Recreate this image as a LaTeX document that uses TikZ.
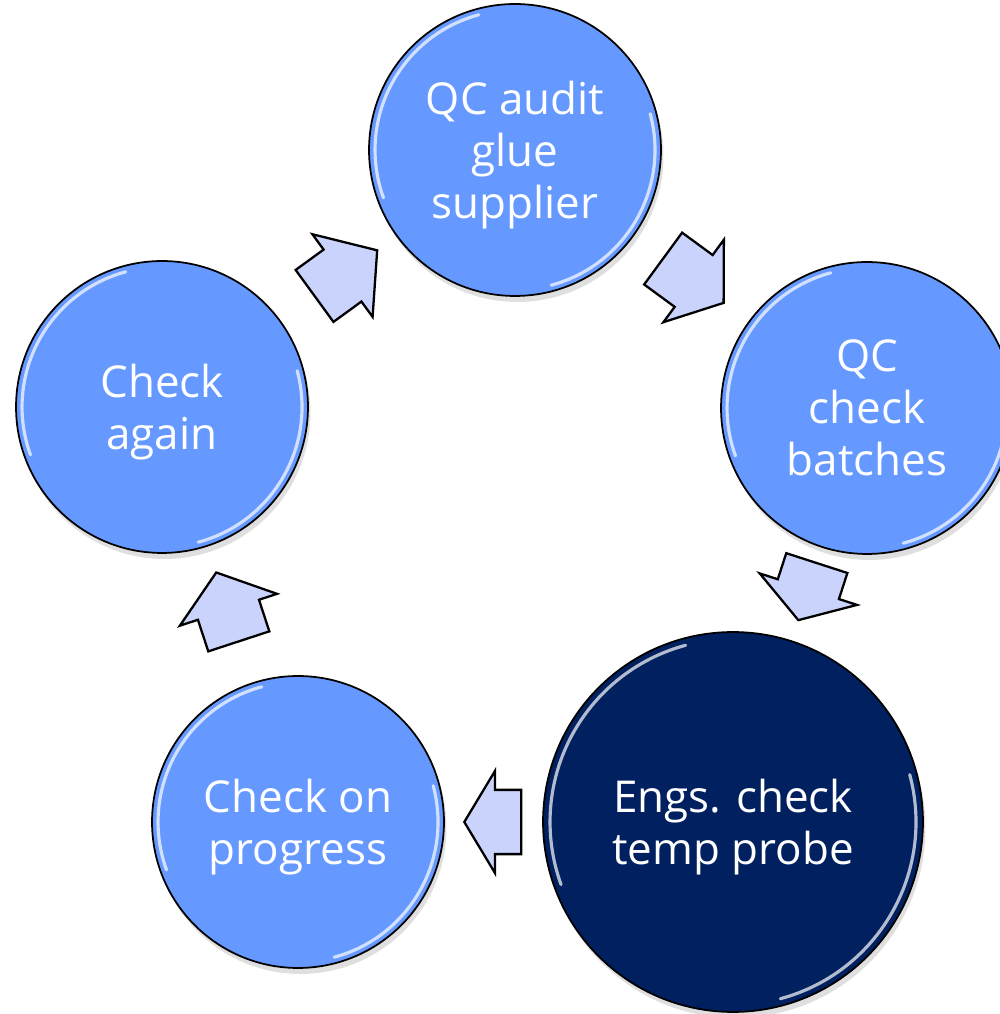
\documentclass[tikz,border=0pt]{standalone}
\usepackage{fontspec}
\setmainfont{Open Sans}
\usetikzlibrary{shapes.arrows,shadows,calc}

\definecolor{StepBlue}{RGB}{102,153,255}
\definecolor{StepNavy}{RGB}{0,32,96}
\definecolor{ArrowLilac}{RGB}{201,211,251}

\begin{document}
\begin{tikzpicture}[x=0.02cm, y=0.02cm,
	stepcirc/.style={draw=black, line width=1pt, circle, minimum size=5.84cm, inner sep=0pt, fill=StepBlue, text=white, align=center, text depth=0pt, font=\fontsize{25}{29.6}\selectfont, drop shadow={shadow xshift=0.5mm, shadow yshift=-1.2mm, opacity=0.25}},
	cyclearrow/.style 2 args={draw=black, line width=1.3pt, fill=ArrowLilac, single arrow, inner xsep=0pt, inner ysep=0.62cm, minimum height=#1, single arrow head extend=0.38cm, single arrow tip angle=#2},
	gloss/.style={white, line width=1.8pt, opacity=0.7, line cap=round}]
	\useasboundingbox (0,0) rectangle (1000,1014);

	\node[stepcirc] (audit) at (515,864) {QC audit\\glue\\supplier};
	\node[stepcirc] (batches) at (867,606) {QC\\check\\batches};
	\node[stepcirc, minimum size=7.6cm, fill=StepNavy] (probe) at (733,192) {Engs. check\\temp probe};
	\node[stepcirc] (progress) at (298,192) {Check on\\progress};
	\node[stepcirc] (again) at (162,607) {Check\\again};

	% gloss on the rims
	\foreach \n/\r in {audit/2.8,batches/2.8,progress/2.8,again/2.8,probe/3.66} {
		\draw[gloss] (\n.center) ++(105:\r cm) arc[start angle=105, end angle=200, radius=\r cm];
		\draw[gloss] (\n.center) ++(-75:\r cm) arc[start angle=-75, end angle=15, radius=\r cm];
	}

	% arrows between the steps
	\path let \p1=($(audit)-(again)$), \n1={atan2(\y1,\x1)} in
		node[cyclearrow={1.55cm}{100}, rotate=\n1] (a1) at ($(again)!0.49!(audit)$) {};
	\path let \p1=($(batches)-(audit)$), \n1={atan2(\y1,\x1)} in
		node[cyclearrow={1.5cm}{108}, rotate=\n1] (a2) at ($(audit)!0.48!(batches)$) {};
	\path let \p1=($(probe)-(batches)$), \n1={atan2(\y1,\x1)} in
		node[cyclearrow={1.2cm}{115}, rotate=\n1] (a3) at ($(batches)!0.42!(probe)$) {};
	\path let \p1=($(progress)-(probe)$), \n1={atan2(\y1,\x1)} in
		node[cyclearrow={1.14cm}{118}, rotate=\n1] (a4) at ($(probe)!0.53!(progress)$) {};
	\path let \p1=($(again)-(progress)$), \n1={atan2(\y1,\x1)} in
		node[cyclearrow={1.45cm}{105}, rotate=\n1] (a5) at ($(progress)!0.49!(again)$) {};
\end{tikzpicture}
\end{document}
